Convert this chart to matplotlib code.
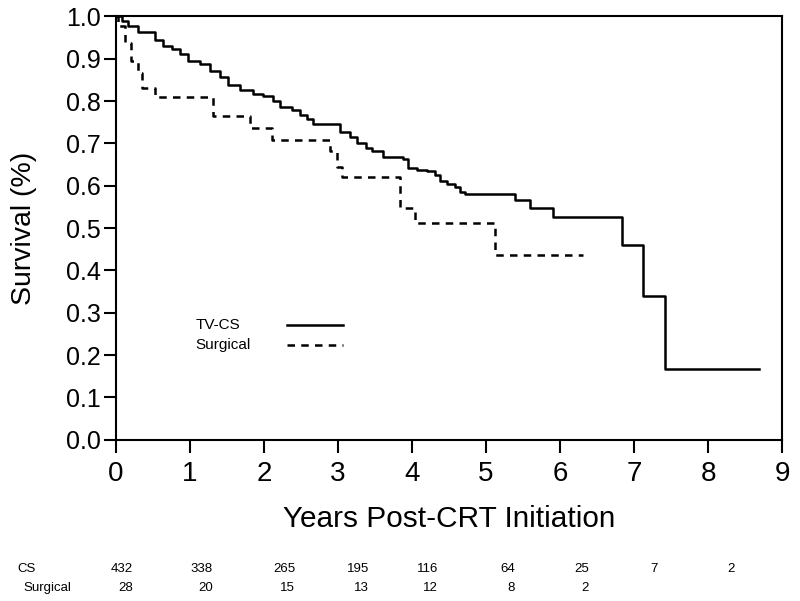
import numpy as np
import matplotlib
matplotlib.use('Agg')
import matplotlib.pyplot as plt

plt.rcParams['font.family'] = ['Liberation Sans', 'DejaVu Sans']

# Kaplan-Meier steps (time in years, survival)
cs_time = [0, 0.08, 0.16, 0.30, 0.53, 0.64, 0.76, 0.86, 0.97, 1.14, 1.27, 1.41,
           1.51, 1.68, 1.85, 1.99, 2.12, 2.22, 2.38, 2.49, 2.58, 2.66, 3.03,
           3.16, 3.26, 3.38, 3.46, 3.61, 3.75, 3.88, 3.95, 4.07, 4.20, 4.31,
           4.38, 4.47, 4.58, 4.65, 4.72, 5.39, 5.59, 5.91, 6.84, 7.12, 7.42, 8.69]
cs_surv = [1.0, 0.988, 0.977, 0.962, 0.945, 0.929, 0.922, 0.910, 0.894, 0.887,
           0.870, 0.858, 0.839, 0.827, 0.816, 0.811, 0.799, 0.785, 0.780, 0.768,
           0.757, 0.745, 0.726, 0.716, 0.702, 0.690, 0.681, 0.669, 0.667, 0.662,
           0.643, 0.636, 0.634, 0.626, 0.610, 0.603, 0.598, 0.586, 0.581, 0.567,
           0.548, 0.527, 0.459, 0.340, 0.168, 0.168]

surg_time = [0, 0.03, 0.12, 0.20, 0.30, 0.35, 0.53, 1.31, 1.81, 2.11, 2.89,
             2.99, 3.05, 3.84, 4.04, 5.12, 6.31]
surg_surv = [1.0, 0.977, 0.937, 0.894, 0.866, 0.832, 0.809, 0.764, 0.737,
             0.709, 0.681, 0.645, 0.620, 0.548, 0.513, 0.437, 0.437]

group_names = ['TV-CS', 'Surgical']

# numbers at risk
risk_cs = ['432', '338', '265', '195', '116', '64', '25', '7', '2']
risk_surg = ['28', '20', '15', '13', '12', '8', '2']
risk_x = [133, 213, 295, 369, 438, 515, 589, 658, 735]  # pixel right edges

W, H = 800, 601
fig = plt.figure(figsize=(8, 6.01), dpi=100)
ax = fig.add_axes([116 / W, 1 - 439.7 / H, 666 / W, 423.3 / H])

dash = (0, (3, 2.5))
ax.step(cs_time, cs_surv, where='post', color='black', lw=1.8)
ax.step(surg_time, surg_surv, where='post', color='black', lw=1.8, ls=dash)

ax.set_xlim(0, 9)
ax.set_ylim(0, 1)
ax.set_xticks(np.arange(0, 10, 1))
ax.set_yticks(np.arange(0, 1.01, 0.1))
ax.set_yticklabels(['%.1f' % v for v in np.arange(0, 1.01, 0.1)])
for s in ax.spines.values():
    s.set_linewidth(1.5)
ax.tick_params(direction='out', length=9, width=1.5)
ax.tick_params(axis='x', labelsize=20, pad=6)
ax.tick_params(axis='y', labelsize=18, pad=2)

ax.set_xlabel('Years Post-CRT Initiation', fontsize=21.4)
ax.set_ylabel('Survival (%)', fontsize=20.5)
ax.xaxis.set_label_coords(0.5, -0.155)
ax.yaxis.set_label_coords(-0.119, 0.5)

# legend: label on the left, line sample on the right
leg_y = [0.272, 0.224]
for name, ly, style in zip(group_names, leg_y, ['-', dash]):
    ax.text(0.119, ly, name, transform=ax.transAxes, fontsize=11,
            va='center', ha='left')
    ax.plot([0.257, 0.341], [ly, ly], transform=ax.transAxes, color='black',
            lw=1.8, ls=style)

# risk table
fig.text(17 / W, 1 - 569 / H, 'CS', fontsize=9.5, va='center', ha='left')
fig.text(23 / W, 1 - 588 / H, 'Surgical', fontsize=9.5, va='center', ha='left')
for i, v in enumerate(risk_cs):
    fig.text(risk_x[i] / W, 1 - 569 / H, v, fontsize=9.5, va='center', ha='right')
for i, v in enumerate(risk_surg):
    fig.text(risk_x[i] / W, 1 - 588 / H, v, fontsize=9.5, va='center', ha='right')

plt.savefig('out.png', dpi=100)
